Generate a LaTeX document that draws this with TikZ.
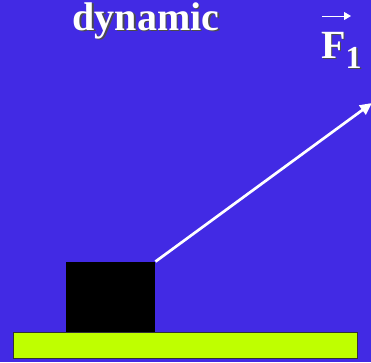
\documentclass[tikz,border=0pt]{standalone}
\usepackage{fontspec}
\setmainfont{Liberation Serif}
\usetikzlibrary{arrows.meta}
\definecolor{slideblue}{RGB}{66,42,228}
\definecolor{floorgreen}{RGB}{191,255,0}
\begin{document}
\begin{tikzpicture}[x=1pt,y=-1pt,
 title/.style={text=white,font=\fontsize{40}{40}\selectfont\bfseries,inner sep=0pt},
 shadow/.style={text=black!70,font=\fontsize{40}{40}\selectfont\bfseries,inner sep=0pt},
 force/.style={-{Triangle[length=12pt,width=11pt]},line width=2.7pt,draw=white}]
\fill[slideblue] (0,0) rectangle (371,362);
\useasboundingbox (0,0) rectangle (371,362);
% floor and block
\node[draw=black!80,line width=0.8pt,fill=floorgreen,minimum width=344pt,minimum height=26pt,inner sep=0pt,anchor=north west] (floor) at (13,332) {};
\node[fill=black,minimum width=89pt,minimum height=70pt,inner sep=0pt,anchor=south west] (block) at (66,332) {};
% labels
\node[shadow,anchor=base] at (147.5,31.5) {dynamic};
\node[title,anchor=base] (dyn) at (146,30) {dynamic};
\node[shadow,anchor=base west] at (322.5,59.5) {F\raisebox{-10pt}{\fontsize{32}{32}\selectfont 1}};
\node[title,anchor=base west] (f1) at (321,58) {F\raisebox{-10pt}{\fontsize{32}{32}\selectfont 1}};
\coordinate (vl) at (322,16);
\coordinate (vr) at (351,16);
\draw[-{Triangle[length=7pt,width=8pt]},line width=1pt,draw=white] (vl) -- (vr);
% force vector
\coordinate (tip) at (372,103);
\draw[force] (block.north east) -- (tip);
\end{tikzpicture}
\end{document}
